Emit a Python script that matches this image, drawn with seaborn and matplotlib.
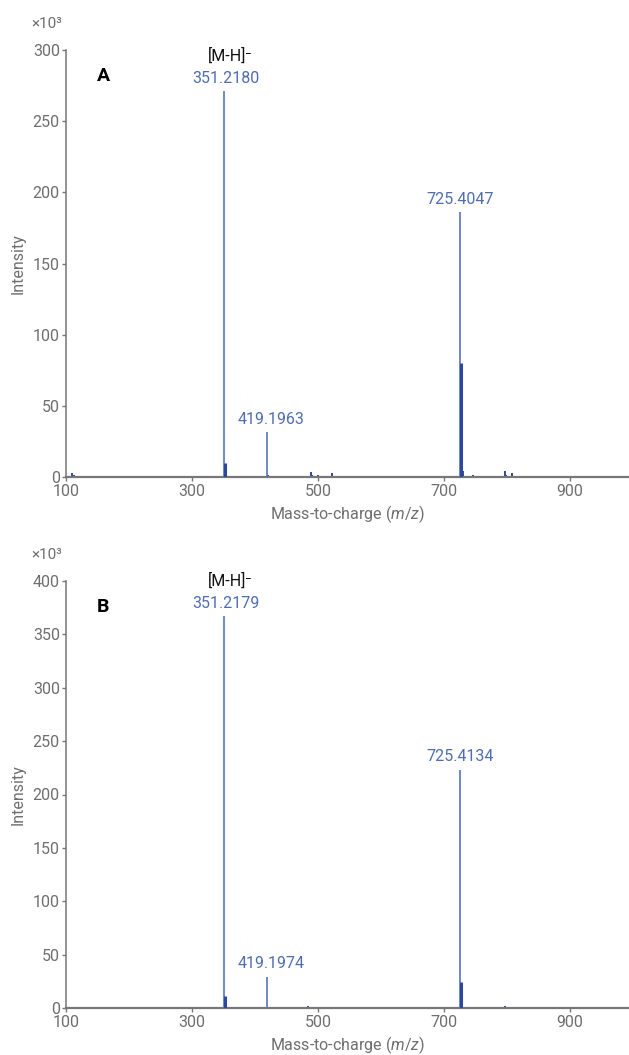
import matplotlib
matplotlib.use("Agg")
import matplotlib.pyplot as plt
import seaborn as sns

# ---------------- data (intensity in thousands) ----------------
x_ticks = [100, 300, 500, 700, 900]

a_peak_mz = [351.2180, 419.1963, 725.4047]
a_peak_int = [271, 31.5, 186]
a_peak_labels = ["351.2180", "419.1963", "725.4047"]
a_iso_mz = [352.9, 727.1]
a_iso_int = [9.5, 80]
a_minor_mz = [110, 112, 420.5, 438, 452, 489, 491, 500, 522, 729.5, 746, 797, 799, 808, 810]
a_minor_int = [2.5, 1.2, 1.2, 0.8, 0.8, 3.5, 1.5, 1.5, 2.5, 4, 1.5, 4.5, 1.5, 2.5, 1.0]
a_y_ticks = [0, 50, 100, 150, 200, 250, 300]

b_peak_mz = [351.2179, 419.1974, 725.4134]
b_peak_int = [367, 29, 223]
b_peak_labels = ["351.2179", "419.1974", "725.4134"]
b_iso_mz = [352.9, 727.1]
b_iso_int = [11, 24]
b_minor_mz = [110, 433, 484, 500, 519, 738, 797, 800]
b_minor_int = [1.0, 0.8, 1.5, 0.7, 0.8, 0.8, 1.8, 0.7]
b_y_ticks = [0, 50, 100, 150, 200, 250, 300, 350, 400]

panel_letters = ["A", "B"]
ion_label = "[M-H]\u207b"

# ---------------- style ----------------
sns.set_style("ticks")
plt.rcParams['font.family'] = ['Roboto', 'DejaVu Sans']
plt.rcParams['mathtext.fontset'] = 'custom'
plt.rcParams['mathtext.it'] = 'Roboto:italic'
plt.rcParams['mathtext.rm'] = 'Roboto'

GRAY = "#6e6e6e"
SPINE = "#777777"
LBLUE = "#5676c0"
TBLUE = "#4f6db2"
DBLUE = "#2d479b"

fig = plt.figure(figsize=(6.29, 10.55), dpi=100)
ax_a = fig.add_axes([66/629, 1-477/1055, 563/629, 427/1055])
ax_b = fig.add_axes([66/629, 1-1008/1055, 563/629, 427/1055])

panels = [
    (ax_a, a_peak_mz, a_peak_int, a_peak_labels, a_iso_mz, a_iso_int, a_minor_mz, a_minor_int, a_y_ticks, 300),
    (ax_b, b_peak_mz, b_peak_int, b_peak_labels, b_iso_mz, b_iso_int, b_minor_mz, b_minor_int, b_y_ticks, 400),
]
label_dx = [1, 3, 0]

for i, (ax, pmz, pint, plab, imz, iint, mmz, mint, yt, ymax) in enumerate(panels):
    ax.vlines(mmz, 0, mint, color=DBLUE, linewidth=1.4, zorder=2)
    ax.vlines(pmz, 0, pint, color=LBLUE, linewidth=1.2, zorder=3)
    ax.vlines(imz, 0, iint, color=DBLUE, linewidth=2.2, zorder=3)

    for mz, h, lab, dx in zip(pmz, pint, plab, label_dx):
        ax.annotate(lab, xy=(mz, h), xytext=(dx, 4), textcoords="offset points",
                    ha="center", va="bottom", color=TBLUE, fontsize=11.5,
                    annotation_clip=False)
    # ion label above the base peak label
    ax.annotate(ion_label, xy=(pmz[0], pint[0]), xytext=(4, 20), textcoords="offset points",
                ha="center", va="bottom", color="#111111", fontsize=11.5,
                family=['Roboto', 'DejaVu Sans'], annotation_clip=False)

    ax.set_xlim(100, 993.6)
    ax.set_ylim(0, ymax)
    ax.set_xticks(x_ticks)
    ax.set_yticks(yt)
    ax.tick_params(axis='y', colors=SPINE, labelcolor=GRAY, labelsize=11.5,
                   length=3, width=1.0, pad=1.5)
    ax.tick_params(axis='x', colors=SPINE, labelcolor=GRAY, labelsize=11.5,
                   length=3, width=1.0, pad=2.0)
    sns.despine(ax=ax)
    ax.spines['left'].set_color(SPINE)
    ax.spines['left'].set_linewidth(1.1)
    ax.spines['bottom'].set_color(SPINE)
    ax.spines['bottom'].set_linewidth(1.6)

    ax.set_xlabel("Mass-to-charge ($m/z$)", color=GRAY, fontsize=11.5, labelpad=3)
    ax.set_ylabel("Intensity", color=GRAY, fontsize=11.5, labelpad=5)

    ax.text(0.066, 0.938, panel_letters[i], transform=ax.transAxes, ha="center",
            va="center", fontsize=14, fontweight="bold", color="#000000")
    ax.text(-0.035, 1.062, "\u00d710\u00b3", transform=ax.transAxes, ha="center",
            va="center", fontsize=11, color=GRAY)

fig.savefig("out.png", dpi=100)
